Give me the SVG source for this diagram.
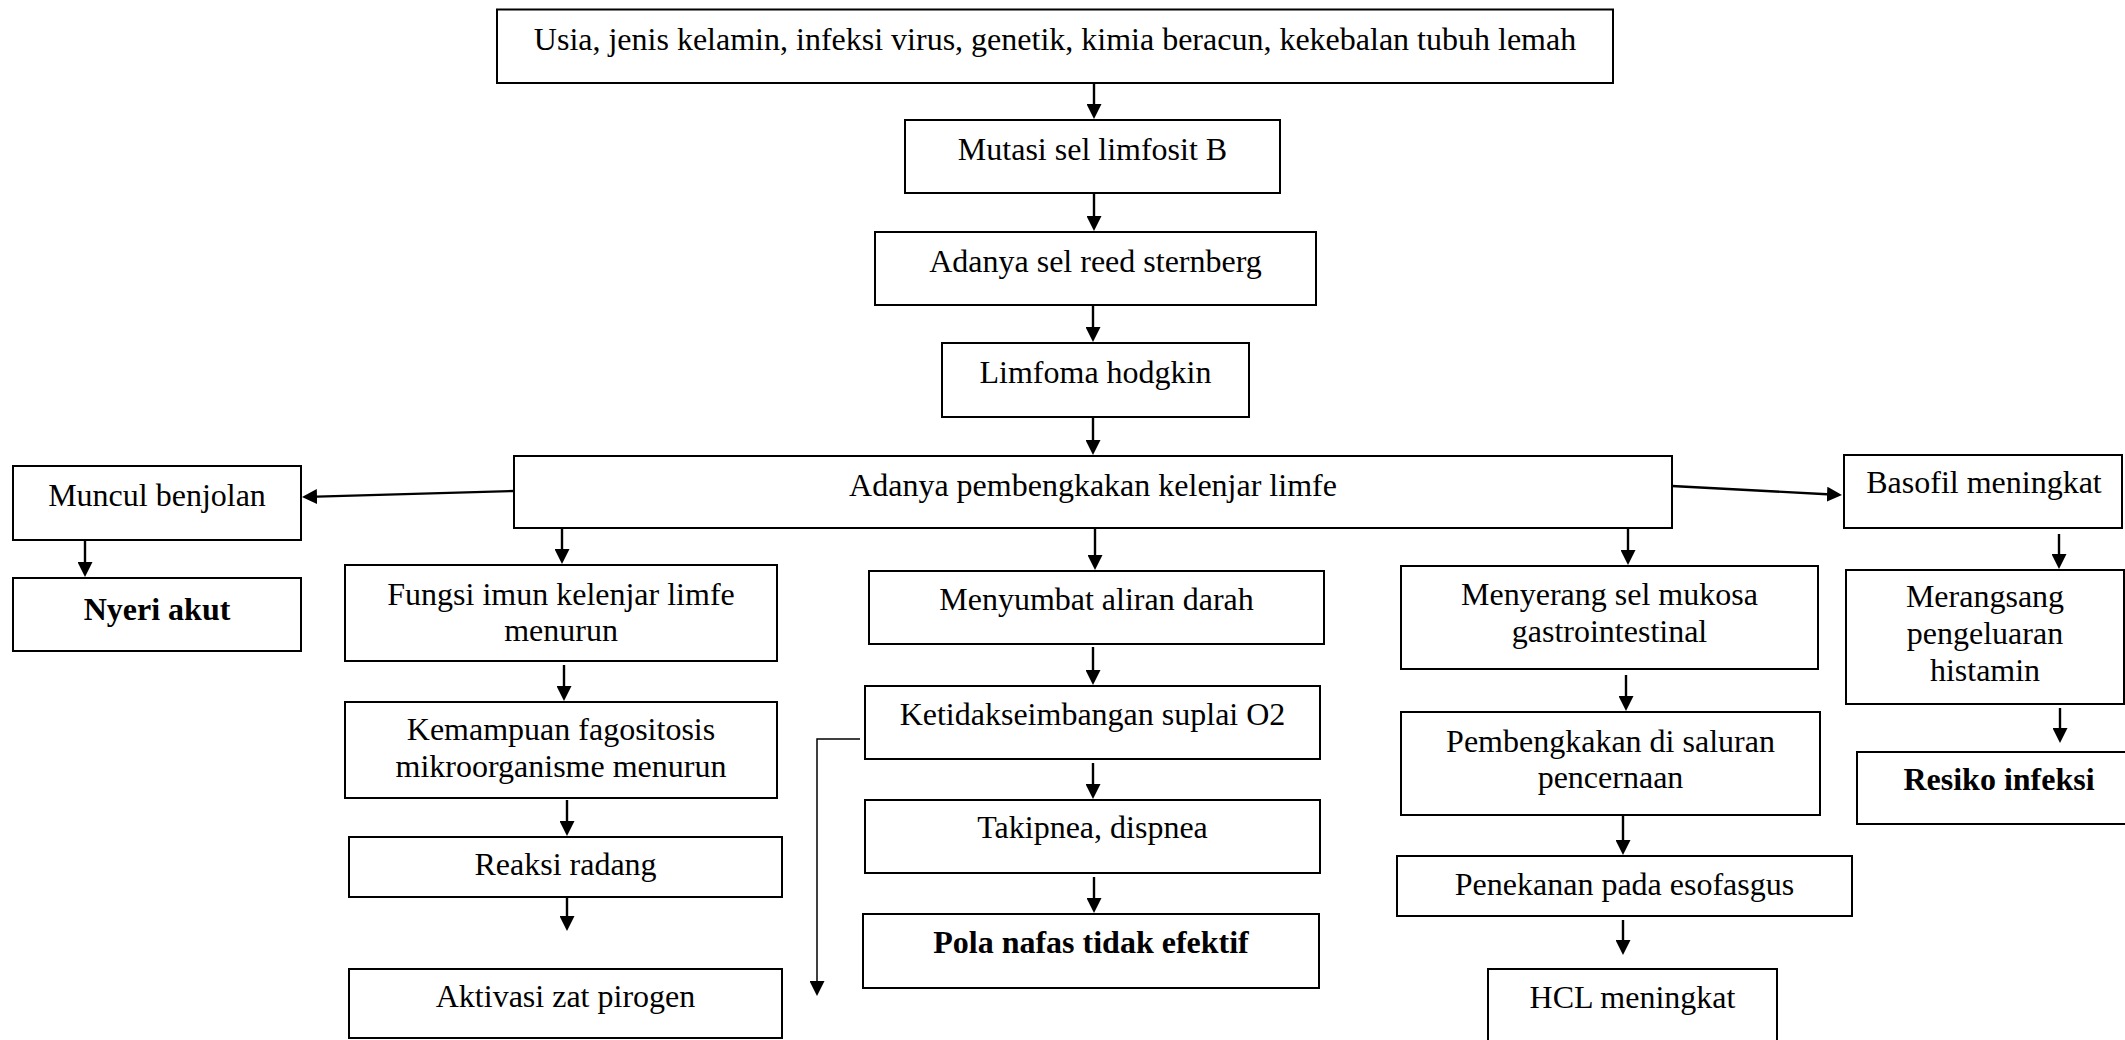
<svg xmlns="http://www.w3.org/2000/svg" width="2125" height="1040" viewBox="0 0 2125 1040">
<style>
.box{fill:#fff;stroke:#000;stroke-width:2}
.t{font-family:"Liberation Serif","Times New Roman",serif;font-size:32px;text-anchor:middle;fill:#000}
.b{font-weight:bold}
.c{fill:none;stroke:#000;stroke-width:2.4}
.thin{fill:none;stroke:#000;stroke-width:1.5}
</style>
<defs>
<marker id="ah" viewBox="0 0 10 10" refX="0" refY="5" markerWidth="15" markerHeight="15" markerUnits="userSpaceOnUse" orient="auto" preserveAspectRatio="none">
<path d="M0,0 L10,5 L0,10 z" fill="#000"/>
</marker>
</defs>
<rect width="2125" height="1040" fill="#fff"/>
<g id="n_top"><rect class="box" x="497" y="9.5" width="1116" height="73.5"/><text class="t" x="1055" y="50">Usia, jenis kelamin, infeksi virus, genetik, kimia beracun, kekebalan tubuh lemah</text></g>
<g id="n_mutasi"><rect class="box" x="905" y="120" width="375" height="73"/><text class="t" x="1092.5" y="160">Mutasi sel limfosit B</text></g>
<g id="n_reed"><rect class="box" x="875" y="232" width="441" height="73"/><text class="t" x="1095.5" y="272">Adanya sel reed sternberg</text></g>
<g id="n_limfoma"><rect class="box" x="942" y="343" width="307" height="74"/><text class="t" x="1095.5" y="383">Limfoma hodgkin</text></g>
<g id="n_bengkak"><rect class="box" x="514" y="456" width="1158" height="72"/><text class="t" x="1093" y="496">Adanya pembengkakan kelenjar limfe</text></g>
<g id="n_muncul"><rect class="box" x="13" y="466" width="288" height="74"/><text class="t" x="157" y="506">Muncul benjolan</text></g>
<g id="n_nyeri"><rect class="box" x="13" y="578" width="288" height="73"/><text class="t b" x="157" y="620">Nyeri akut</text></g>
<g id="n_fungsi"><rect class="box" x="345" y="565" width="432" height="96"/><text class="t" x="561" y="605">Fungsi imun kelenjar limfe</text><text class="t" x="561" y="641">menurun</text></g>
<g id="n_kemampuan"><rect class="box" x="345" y="702" width="432" height="96"/><text class="t" x="561" y="740">Kemampuan fagositosis</text><text class="t" x="561" y="777">mikroorganisme menurun</text></g>
<g id="n_reaksi"><rect class="box" x="349" y="837" width="433" height="60"/><text class="t" x="565.5" y="875">Reaksi radang</text></g>
<g id="n_aktivasi"><rect class="box" x="349" y="969" width="433" height="69"/><text class="t" x="565.5" y="1007">Aktivasi zat pirogen</text></g>
<g id="n_menyumbat"><rect class="box" x="869" y="571" width="455" height="73"/><text class="t" x="1096.5" y="610">Menyumbat aliran darah</text></g>
<g id="n_ketidak"><rect class="box" x="865" y="686" width="455" height="73"/><text class="t" x="1092.5" y="725">Ketidakseimbangan suplai O2</text></g>
<g id="n_takipnea"><rect class="box" x="865" y="800" width="455" height="73"/><text class="t" x="1092.5" y="838">Takipnea, dispnea</text></g>
<g id="n_pola"><rect class="box" x="863" y="914" width="456" height="74"/><text class="t b" x="1091" y="953">Pola nafas tidak efektif</text></g>
<g id="n_menyerang"><rect class="box" x="1401" y="566" width="417" height="103"/><text class="t" x="1609.5" y="605">Menyerang sel mukosa</text><text class="t" x="1609.5" y="642">gastrointestinal</text></g>
<g id="n_pembengkakan"><rect class="box" x="1401" y="712" width="419" height="103"/><text class="t" x="1610.5" y="752">Pembengkakan di saluran</text><text class="t" x="1610.5" y="788">pencernaan</text></g>
<g id="n_penekanan"><rect class="box" x="1397" y="856" width="455" height="60"/><text class="t" x="1624.5" y="895">Penekanan pada esofasgus</text></g>
<g id="n_hcl"><rect class="box" x="1488" y="969" width="289" height="90"/><text class="t" x="1632.5" y="1008">HCL meningkat</text></g>
<g id="n_basofil"><rect class="box" x="1844" y="455" width="278" height="73"/><text class="t" x="1984" y="493">Basofil meningkat</text></g>
<g id="n_merangsang"><rect class="box" x="1846" y="570" width="278" height="134"/><text class="t" x="1985" y="607">Merangsang</text><text class="t" x="1985" y="644">pengeluaran</text><text class="t" x="1985" y="681">histamin</text></g>
<g id="n_resiko"><rect class="box" x="1857" y="752" width="283" height="72"/><text class="t b" x="1999" y="790">Resiko infeksi</text></g>
<g id="connectors">
<line class="c" x1="1094" y1="83" x2="1094" y2="104" marker-end="url(#ah)"/>
<line class="c" x1="1094" y1="193" x2="1094" y2="216" marker-end="url(#ah)"/>
<line class="c" x1="1093" y1="305" x2="1093" y2="327" marker-end="url(#ah)"/>
<line class="c" x1="1093" y1="417" x2="1093" y2="440" marker-end="url(#ah)"/>
<line class="c" x1="514" y1="491" x2="317" y2="496.6" marker-end="url(#ah)"/>
<line class="c" x1="85" y1="540" x2="85" y2="562" marker-end="url(#ah)"/>
<line class="c" x1="562" y1="528" x2="562" y2="549" marker-end="url(#ah)"/>
<line class="c" x1="564" y1="665" x2="564" y2="686" marker-end="url(#ah)"/>
<line class="c" x1="567" y1="800" x2="567" y2="821" marker-end="url(#ah)"/>
<line class="c" x1="567" y1="897" x2="567" y2="916" marker-end="url(#ah)"/>
<line class="c" x1="1095" y1="528" x2="1095" y2="555" marker-end="url(#ah)"/>
<line class="c" x1="1093" y1="647" x2="1093" y2="670" marker-end="url(#ah)"/>
<line class="c" x1="1093" y1="763" x2="1093" y2="784" marker-end="url(#ah)"/>
<line class="c" x1="1094" y1="877" x2="1094" y2="898" marker-end="url(#ah)"/>
<polyline class="thin" points="860,739 817,739 817,981" marker-end="url(#ah)"/>
<line class="c" x1="1628" y1="528" x2="1628" y2="550" marker-end="url(#ah)"/>
<line class="c" x1="1626" y1="675" x2="1626" y2="696" marker-end="url(#ah)"/>
<line class="c" x1="1623" y1="816" x2="1623" y2="840" marker-end="url(#ah)"/>
<line class="c" x1="1623" y1="920" x2="1623" y2="940" marker-end="url(#ah)"/>
<line class="c" x1="1672" y1="486" x2="1827" y2="494.2" marker-end="url(#ah)"/>
<line class="c" x1="2059" y1="534" x2="2059" y2="554" marker-end="url(#ah)"/>
<line class="c" x1="2060" y1="708" x2="2060" y2="728" marker-end="url(#ah)"/>
</g>
</svg>
